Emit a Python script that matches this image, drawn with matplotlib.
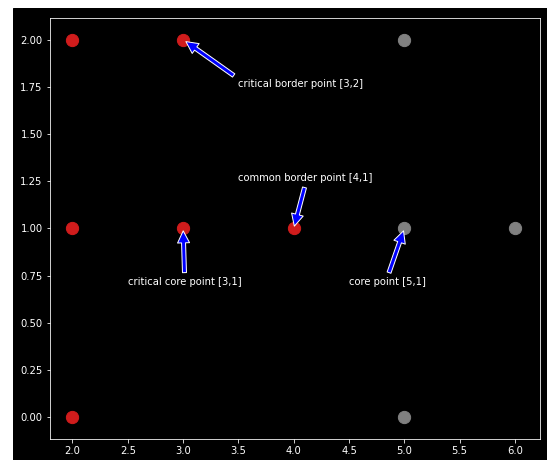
import numpy as np
from matplotlib import pyplot as plt
from matplotlib.patches import Rectangle

plt.style.use('dark_background')

# 点のデータ
red_x = [2, 3, 2, 3, 4, 2]
red_y = [2, 2, 1, 1, 1, 0]
grey_x = [5, 5, 6, 5]
grey_y = [2, 1, 1, 0]

# 注釈 (ラベル, 対象点, テキスト位置)
labels = ['critical border point [3,2]', 'common border point [4,1]',
          'critical core point [3,1]', 'core point [5,1]']
targets = [(3, 2), (4, 1), (3, 1), (5, 1)]
text_pos = [(3.5, 1.75), (3.5, 1.25), (2.5, 0.7), (4.5, 0.7)]

W, H = 547, 460
fig = plt.figure(figsize=(W / 72, H / 72), dpi=72, facecolor='white')
# 黒い図の背景 (左と上に白い余白)
fig.patches.append(Rectangle((13 / W, 0), 1 - 13 / W, 1 - 8 / H,
                             transform=fig.transFigure, color='black', zorder=-1))

ax = fig.add_axes([49.7 / W, 20.7 / H, 490.3 / W, 421 / H])
ax.set_facecolor('black')

ax.scatter(red_x, red_y, s=150, color='#d01c1c', zorder=2)
ax.scatter(grey_x, grey_y, s=150, color='grey', zorder=2)

for lab, xy, xyt in zip(labels, targets, text_pos):
    ax.annotate(lab, xy=xy, xytext=xyt,
                arrowprops=dict(facecolor='blue', shrink=0.05))

ax.set_xlim(1.794, 6.226)
ax.set_ylim(-0.117, 2.113)

fig.savefig('out.png', dpi=72, facecolor=fig.get_facecolor())
